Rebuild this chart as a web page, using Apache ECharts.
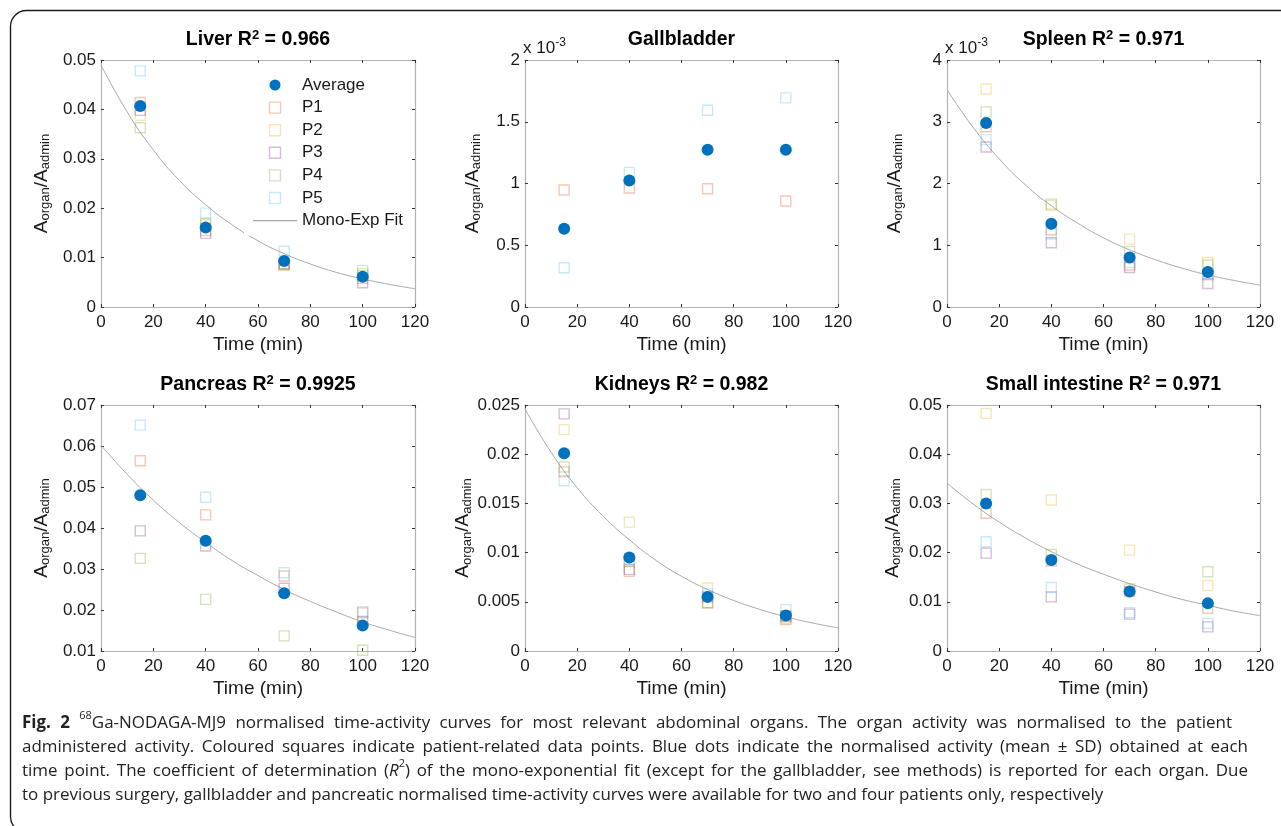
<!DOCTYPE html>
<html><head><meta charset="utf-8">
<script src="https://cdn.jsdelivr.net/npm/echarts@6/dist/echarts.min.js"></script>
<style>html,body{margin:0;padding:0;background:#fff;overflow:hidden}#c{width:1281px;height:826px}</style>
</head><body><div id="c"></div>
<script>
// ---------- data ----------
const timePoints = [15, 40, 70, 100];
const fitTimes = [0, 10, 20, 30, 40, 50, 60, 70, 80, 90, 100, 110, 120];
const patientNames = ['P1', 'P2', 'P3', 'P4', 'P5'];

// Liver
const liverAvg = [0.0407, 0.0161, 0.0093, 0.0061];
const liverP1 = [0.0414, 0.0155, 0.0086, 0.0058];
const liverP2 = [0.0388, 0.0166, 0.0085, 0.0068];
const liverP3 = [0.0398, 0.0149, 0.0088, 0.0049];
const liverP4 = [0.0363, 0.0169, 0.0086, 0.0064];
const liverP5 = [0.0478, 0.0190, 0.0113, 0.0074];
const liverFit = [0.0490, 0.0395, 0.0318, 0.0256, 0.0207, 0.0167, 0.0134, 0.0108, 0.0087, 0.0070, 0.0057, 0.0046, 0.0037];

// Gallbladder (x 10^-3), two patients only
const gallAvg = [0.633, 1.025, 1.273, 1.273];
const gallP1 = [0.947, 0.963, 0.958, 0.858];
const gallP2 = [null, null, null, null];
const gallP3 = [null, null, null, null];
const gallP4 = [null, null, null, null];
const gallP5 = [0.318, 1.090, 1.593, 1.693];

// Spleen (x 10^-3)
const spleenAvg = [2.98, 1.35, 0.80, 0.565];
const spleenP1 = [2.92, 1.25, 0.68, 0.52];
const spleenP2 = [3.53, 1.67, 1.10, 0.72];
const spleenP3 = [2.59, 1.04, 0.64, 0.38];
const spleenP4 = [3.16, 1.65, 0.90, 0.68];
const spleenP5 = [2.71, 1.18, 0.72, 0.53];
const spleenFit = [3.52, 2.91, 2.40, 1.98, 1.64, 1.36, 1.12, 0.925, 0.765, 0.63, 0.52, 0.43, 0.355];

// Pancreas, four patients only
const pancAvg = [0.0480, 0.0369, 0.0241, 0.0162];
const pancP1 = [0.0564, 0.0432, 0.0283, 0.0193];
const pancP2 = [null, null, null, null];
const pancP3 = [0.0393, 0.0356, 0.0253, 0.0172];
const pancP4 = [0.0326, 0.0226, 0.0137, 0.0102];
const pancP5 = [0.0651, 0.0475, 0.0291, 0.0196];
const pancFit = [0.0602, 0.0531, 0.0468, 0.0413, 0.0365, 0.0321, 0.0284, 0.0250, 0.0221, 0.0195, 0.0171, 0.0151, 0.0133];

// Kidneys
const kidAvg = [0.0201, 0.0095, 0.0055, 0.0036];
const kidP1 = [0.0182, 0.0081, 0.0049, 0.0032];
const kidP2 = [0.0225, 0.0131, 0.0064, 0.0033];
const kidP3 = [0.0241, 0.0083, 0.0055, 0.0035];
const kidP4 = [0.0187, 0.0091, 0.0049, 0.0036];
const kidP5 = [0.0173, 0.0093, 0.0058, 0.0042];
const kidFit = [0.0246, 0.0202, 0.0166, 0.0137, 0.0113, 0.00925, 0.0076, 0.00625, 0.00514, 0.00423, 0.00348, 0.00286, 0.00235];

// Small intestine
const siAvg = [0.0300, 0.0185, 0.0121, 0.0097];
const siP1 = [0.0280, 0.0183, 0.0121, 0.0087];
const siP2 = [0.0483, 0.0307, 0.0205, 0.0133];
const siP3 = [0.0199, 0.0110, 0.0075, 0.0049];
const siP4 = [0.0318, 0.0196, 0.0126, 0.0161];
const siP5 = [0.0222, 0.0129, 0.0078, 0.0056];
const siFit = [0.0341, 0.0299, 0.0262, 0.0230, 0.0202, 0.0177, 0.0156, 0.0137, 0.0120, 0.0105, 0.0093, 0.0081, 0.0072];

// ---------- styling / layout ----------
const FONT = "'Liberation Sans', Arial, Helvetica, sans-serif";
const CAPFONT = "'Open Sans', 'Noto Sans', sans-serif";
const blue = '#0072BD';
const pColors = ['#D95319', '#EDB120', '#7E2F8E', '#77AC30', '#4DBEEE'];
const fitColor = '#a9a9a9';
const boxColor = '#b4b4b4';
function rgba(hex, a) {
  const n = parseInt(hex.slice(1), 16);
  return 'rgba(' + (n >> 16 & 255) + ',' + (n >> 8 & 255) + ',' + (n & 255) + ',' + a + ')';
}
function zip(xs, ys) {
  const out = [];
  for (let i = 0; i < xs.length; i++) if (ys[i] != null) out.push([xs[i], ys[i]]);
  return out;
}

const panels = [
  { title: ['Liver R', ' = 0.966'], left: 101, top: 60, width: 314, height: 247, yMin: 0, yMax: 0.05, yInt: 0.01, gap: 49,
    avg: liverAvg, pts: [liverP1, liverP2, liverP3, liverP4, liverP5], fit: liverFit },
  { title: ['Gallbladder'], left: 525, top: 60, width: 313, height: 247, yMin: 0, yMax: 2, yInt: 0.5, gap: 42, exp: true,
    avg: gallAvg, pts: [gallP1, gallP2, gallP3, gallP4, gallP5], fit: null },
  { title: ['Spleen R', ' = 0.971'], left: 947, top: 60, width: 313, height: 247, yMin: 0, yMax: 4, yInt: 1, gap: 42, exp: true,
    avg: spleenAvg, pts: [spleenP1, spleenP2, spleenP3, spleenP4, spleenP5], fit: spleenFit },
  { title: ['Pancreas R', ' = 0.9925'], left: 101, top: 405, width: 314, height: 246, yMin: 0.01, yMax: 0.07, yInt: 0.01, gap: 49,
    avg: pancAvg, pts: [pancP1, pancP2, pancP3, pancP4, pancP5], fit: pancFit },
  { title: ['Kidneys R', ' = 0.982'], left: 525, top: 405, width: 313, height: 246, yMin: 0, yMax: 0.025, yInt: 0.005, gap: 50,
    avg: kidAvg, pts: [kidP1, kidP2, kidP3, kidP4, kidP5], fit: kidFit },
  { title: ['Small intestine R', ' = 0.971'], left: 947, top: 405, width: 313, height: 246, yMin: 0, yMax: 0.05, yInt: 0.01, gap: 44,
    avg: siAvg, pts: [siP1, siP2, siP3, siP4, siP5], fit: siFit }
];

const grids = [], xAxes = [], yAxes = [], series = [], graphics = [];

graphics.push({
  type: 'rect', z: 0, silent: true,
  shape: { x: 10.5, y: 10.5, width: 1320, height: 822, r: 16 },
  style: { fill: 'none', stroke: '#1a1a1a', lineWidth: 1.4 }
});

const tickStyle = { show: true, inside: true, length: 3, lineStyle: { color: '#333', width: 1 } };
const lineStyle = { show: true, onZero: false, lineStyle: { color: boxColor, width: 1.2 } };
const labelStyle = { color: '#1a1a1a', fontSize: 17, fontFamily: FONT };

const yNameRich = {
  a: { fontSize: 19, fontFamily: FONT, color: '#1a1a1a', lineHeight: 20, verticalAlign: 'top' },
  s: { fontSize: 13, fontFamily: FONT, color: '#1a1a1a', lineHeight: 13, verticalAlign: 'bottom', padding: [12, 0, 0, 0] }
};

panels.forEach((p, i) => {
  grids.push({ left: p.left, top: p.top, width: p.width, height: p.height, outerBoundsMode: 'none', containLabel: false });
  xAxes.push({
    type: 'value', gridIndex: i, min: 0, max: 120, interval: 20, position: 'bottom',
    axisLine: lineStyle, axisTick: tickStyle, splitLine: { show: false },
    axisLabel: Object.assign({ margin: 7, showMinLabel: true, showMaxLabel: true }, labelStyle),
    name: 'Time (min)', nameLocation: 'middle', nameGap: 28,
    nameTextStyle: { fontSize: 19, fontFamily: FONT, color: '#1a1a1a' }
  });
  xAxes.push({
    type: 'value', gridIndex: i, min: 0, max: 120, interval: 20, position: 'top',
    axisLine: lineStyle, axisTick: tickStyle, splitLine: { show: false }, axisLabel: { show: false }
  });
  yAxes.push({
    type: 'value', gridIndex: i, min: p.yMin, max: p.yMax, interval: p.yInt, position: 'left',
    axisLine: lineStyle, axisTick: tickStyle, splitLine: { show: false },
    axisLabel: Object.assign({ margin: 5, showMinLabel: true, showMaxLabel: true }, labelStyle),
    name: '{a|A}{s|organ}{a|/A}{s|admin}', nameLocation: 'middle', nameGap: p.gap, nameRotate: 90,
    nameTextStyle: { rich: yNameRich }
  });
  yAxes.push({
    type: 'value', gridIndex: i, min: p.yMin, max: p.yMax, interval: p.yInt, position: 'right',
    axisLine: lineStyle, axisTick: tickStyle, splitLine: { show: false }, axisLabel: { show: false }
  });

  // patient squares
  p.pts.forEach((vals, j) => {
    series.push({
      type: 'scatter', name: patientNames[j], xAxisIndex: 2 * i, yAxisIndex: 2 * i,
      symbol: 'rect', symbolSize: 10, z: 3, silent: true,
      itemStyle: { color: 'rgba(255,255,255,0)', borderColor: rgba(pColors[j], 0.32), borderWidth: 1.4, opacity: 1 },
      data: zip(timePoints, vals)
    });
  });
  // fit
  if (p.fit) {
    series.push({
      type: 'line', name: 'Mono-Exp Fit', xAxisIndex: 2 * i, yAxisIndex: 2 * i,
      smooth: true, symbol: 'none', showSymbol: false, z: 2, silent: true,
      itemStyle: { color: fitColor },
      lineStyle: { color: fitColor, width: 1 },
      data: zip(fitTimes, p.fit)
    });
  }
  // average
  series.push({
    type: 'scatter', name: 'Average', xAxisIndex: 2 * i, yAxisIndex: 2 * i,
    symbol: 'circle', symbolSize: 12, z: 5, silent: true,
    itemStyle: { color: blue, opacity: 1 },
    data: zip(timePoints, p.avg)
  });

  // panel title
  const cx = p.left + p.width / 2;
  const cy = p.top - 21;
  const ttl = p.title.length > 1
    ? '{t|' + p.title[0] + '}{sup|2}{t|' + p.title[1] + '}'
    : '{t|' + p.title[0] + '}';
  graphics.push({
    type: 'text', x: cx, y: cy, z: 10, silent: true,
    style: {
      text: ttl, align: 'center', verticalAlign: 'middle',
      rich: {
        t: { fontSize: 19.5, fontWeight: 'bold', fontFamily: FONT, fill: '#000', lineHeight: 21, verticalAlign: 'bottom' },
        sup: { fontSize: 13, fontWeight: 'bold', fontFamily: FONT, fill: '#000', lineHeight: 13, verticalAlign: 'top' }
      }
    }
  });
  if (p.exp) {
    graphics.push({
      type: 'text', x: p.left - 2, y: p.top - 3, z: 10, silent: true,
      style: {
        text: '{n|x 10}{sup|-3}', align: 'left', verticalAlign: 'bottom',
        rich: {
          n: { fontSize: 17, fontFamily: FONT, fill: '#1a1a1a', lineHeight: 20, verticalAlign: 'bottom' },
          sup: { fontSize: 12, fontFamily: FONT, fill: '#1a1a1a', lineHeight: 12, verticalAlign: 'top', padding: [0, 0, 14, 0] }
        }
      }
    });
  }
});

// ---------- caption (justified like the journal layout) ----------
const capLines = [
  [['b', 'Fig. 2'], ['n', ' '], ['sup', '68'], ['n', 'Ga-NODAGA-MJ9 normalised time-activity curves for most relevant abdominal organs. The organ activity was normalised to the patient']],
  [['n', 'administered activity. Coloured squares indicate patient-related data points. Blue dots indicate the normalised activity (mean \u00b1 SD) obtained at each']],
  [['n', 'time point. The coefficient of determination ('], ['i', 'R'], ['sup', '2'], ['n', ') of the mono-exponential fit (except for the gallbladder, see methods) is reported for each organ. Due']],
  [['n', 'to previous surgery, gallbladder and pancreatic normalised time-activity curves were available for two and four patients only, respectively']]
];
const capRight = [1232, 1248, 1248, 1040];
const capJustify = [true, true, true, false];
const capY = [721, 745, 769, 793];
const CAPX = 22;
const CAPSIZE = 17;
const capFonts = {
  b: 'bold ' + CAPSIZE + 'px ' + CAPFONT,
  n: CAPSIZE + 'px ' + CAPFONT,
  i: 'italic ' + CAPSIZE + 'px ' + CAPFONT,
  sup: '11px ' + CAPFONT
};
const mctx = document.createElement('canvas').getContext('2d');
function measure(segs) {
  let w = 0;
  segs.forEach(s => { mctx.font = capFonts[s[0]]; w += mctx.measureText(s[1]).width; });
  return w;
}
mctx.font = capFonts.n;
const spaceW = mctx.measureText(' ').width;
// horizontal scale: compromise between justified lines and the last line
const ratios = capLines.map((segs, k) => (capRight[k] - CAPX) / measure(segs));
const capScale = 0.5 * ratios[3] + 0.5 * (ratios[0] + ratios[1] + ratios[2]) / 3;

capLines.forEach((segs, k) => {
  const w = measure(segs);
  let nSpaces = 0;
  segs.forEach(s => { if (s[0] !== 'sup') nSpaces += (s[1].match(/ /g) || []).length; });
  const extra = capJustify[k] ? ((capRight[k] - CAPX) / capScale - w) / nSpaces : 0;
  const tokens = [];
  segs.forEach(s => {
    if (s[0] === 'sup') { tokens.push('{sup|' + s[1] + '}'); return; }
    const parts = s[1].split(' ');
    parts.forEach((part, pi) => {
      if (part.length) tokens.push('{' + s[0] + '|' + part + '}');
      if (pi < parts.length - 1) tokens.push('{sp| }');
    });
  });
  const rich = {
    b: { fontSize: CAPSIZE, fontWeight: 'bold', fontFamily: CAPFONT, fill: '#222', lineHeight: 22, verticalAlign: 'bottom' },
    n: { fontSize: CAPSIZE, fontFamily: CAPFONT, fill: '#222', lineHeight: 22, verticalAlign: 'bottom' },
    i: { fontSize: CAPSIZE, fontStyle: 'italic', fontFamily: CAPFONT, fill: '#222', lineHeight: 22, verticalAlign: 'bottom' },
    sp: { fontSize: CAPSIZE, fontFamily: CAPFONT, fill: '#222', lineHeight: 22, verticalAlign: 'bottom', width: Math.max(2, spaceW + extra) },
    sup: { fontSize: 11, fontFamily: CAPFONT, fill: '#222', lineHeight: 11, verticalAlign: 'top', padding: [0, 0, 4, 0] }
  };
  graphics.push({
    type: 'text', x: CAPX, y: capY[k], scaleX: capScale, scaleY: 1, z: 10, silent: true,
    style: { text: tokens.join(''), align: 'left', verticalAlign: 'middle', rich: rich }
  });
});

// ---------- legend ----------
const squareIcon = 'path://M0,0L10,0L10,10L0,10Z';
const lineIcon = 'path://M0,0L44,0L44,1.1L0,1.1Z';
const legendData = [{ name: 'Average', icon: 'circle', itemStyle: { color: blue, opacity: 1 } }]
  .concat(patientNames.map((n, j) => ({
    name: n, icon: squareIcon,
    itemStyle: { color: 'rgba(255,255,255,0)', borderColor: rgba(pColors[j], 0.32), borderWidth: 1.4, opacity: 1 }
  })))
  .concat([{ name: 'Mono-Exp Fit', icon: lineIcon, itemStyle: { color: fitColor, borderWidth: 0, opacity: 1 } }]);

const chart = echarts.init(document.getElementById('c'), null, { renderer: 'canvas' });
chart.setOption({
  backgroundColor: '#fff',
  animation: false,
  grid: grids,
  xAxis: xAxes,
  yAxis: yAxes,
  series: series,
  legend: {
    orient: 'vertical', left: 244, top: 66, padding: [8, 8, 4, 9],
    backgroundColor: '#fff', itemWidth: 44, itemHeight: 11, itemGap: 0.6,
    selectedMode: false, data: legendData, symbolKeepAspect: true,
    textStyle: { fontSize: 17, fontFamily: FONT, color: '#1a1a1a', lineHeight: 22 }
  },
  graphic: graphics
});
</script></body></html>
